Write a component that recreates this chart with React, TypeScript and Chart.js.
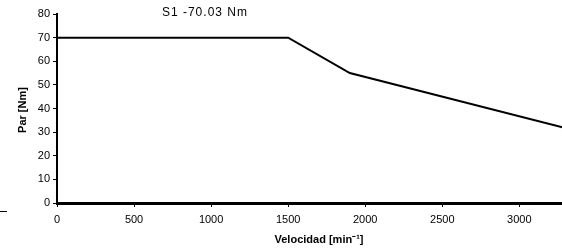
import React, { useEffect, useRef } from "react";
import { Chart, registerables } from "chart.js";

Chart.register(...registerables);

// ---- data ----
const speeds = [0, 1500, 1900, 3400];
const torques = [70, 70, 55, 30];
const xTickValues = [0, 500, 1000, 1500, 2000, 2500, 3000];
const yTickValues = [0, 10, 20, 30, 40, 50, 60, 70, 80];
const xMin = 0;
const xMax = 3400;
const yMin = 0;
const yMax = 80;
const annotationText = "S1 -70.03 Nm";
const xTitle = "Velocidad [min\u207B\u00B9]";
const yTitle = "Par [Nm]";

const FONT = "'Liberation Sans', Arial, sans-serif";

const decorations = {
  id: "decorations",
  afterDraw(chart: any) {
    const { ctx, chartArea, scales } = chart;
    ctx.save();
    ctx.fillStyle = "#000";
    // annotation
    ctx.font = `12px ${FONT}`;
    try { (ctx as any).letterSpacing = "1px"; } catch (e) {}
    ctx.textAlign = "center";
    ctx.textBaseline = "middle";
    ctx.fillText(annotationText, scales.x.getPixelForValue(960), chartArea.top - 1);
    try { (ctx as any).letterSpacing = "0px"; } catch (e) {}
    // x title
    ctx.font = `bold 11px ${FONT}`;
    ctx.fillText(xTitle, (chartArea.left + chartArea.right) / 2, 240);
    // y title
    ctx.translate(23, (chartArea.top + chartArea.bottom) / 2 + 1.5);
    ctx.rotate(-Math.PI / 2);
    ctx.fillText(yTitle, 0, 0);
    ctx.restore();
    // small dash at lower left
    ctx.save();
    ctx.strokeStyle = "#000";
    ctx.lineWidth = 1;
    ctx.beginPath();
    ctx.moveTo(0, 211.5);
    ctx.lineTo(7, 211.5);
    ctx.stroke();
    ctx.restore();
  },
};

export default function App() {
  const ref = useRef<HTMLCanvasElement | null>(null);
  useEffect(() => {
    if (!ref.current) return;
    const chart = new Chart(ref.current, {
      type: "line",
      data: {
        datasets: [
          {
            data: speeds.map((x, i) => ({ x, y: torques[i] })),
            borderColor: "#000",
            borderWidth: 2,
            pointRadius: 0,
            tension: 0,
            fill: false,
          },
        ],
      },
      options: {
        animation: false,
        responsive: false,
        maintainAspectRatio: false,
        layout: { padding: { top: 14, right: 0, left: 0, bottom: 0 } },
        plugins: { legend: { display: false }, tooltip: { enabled: false } },
        scales: {
          x: {
            type: "linear",
            min: xMin,
            max: xMax,
            afterBuildTicks: (s: any) => {
              s.ticks = xTickValues.map((v) => ({ value: v }));
            },
            afterFit: (s: any) => {
              s.height = 46;
            },
            ticks: {
              font: { family: FONT, size: 11 },
              color: "#000",
              padding: 6,
              maxRotation: 0,
              autoSkip: false,
              includeBounds: false,
              callback: (v: any) => String(v),
            },
            grid: {
              display: true,
              drawOnChartArea: false,
              drawTicks: true,
              tickLength: 4,
              color: "#000",
              lineWidth: 1,
            },
            border: { display: true, color: "#000", width: 3 },
          },
          y: {
            type: "linear",
            min: yMin,
            max: yMax,
            afterBuildTicks: (s: any) => {
              s.ticks = yTickValues.map((v) => ({ value: v }));
            },
            afterFit: (s: any) => {
              s.width = 57;
            },
            ticks: {
              font: { family: FONT, size: 11 },
              color: "#000",
              padding: 3,
              autoSkip: false,
              includeBounds: false,
              callback: (v: any) => String(v),
            },
            grid: {
              display: true,
              drawOnChartArea: false,
              drawTicks: true,
              tickLength: 4,
              color: "#000",
              lineWidth: 1,
            },
            border: { display: true, color: "#000", width: 2 },
          },
        },
      },
      plugins: [decorations],
    } as any);
    return () => chart.destroy();
  }, []);

  return (
    <div
      style={{
        position: "fixed",
        left: 0,
        top: 0,
        width: 562,
        height: 249,
        overflow: "hidden",
        background: "#fff",
      }}
    >
      <canvas ref={ref} width={581} height={249} style={{ display: "block" }} />
    </div>
  );
}
